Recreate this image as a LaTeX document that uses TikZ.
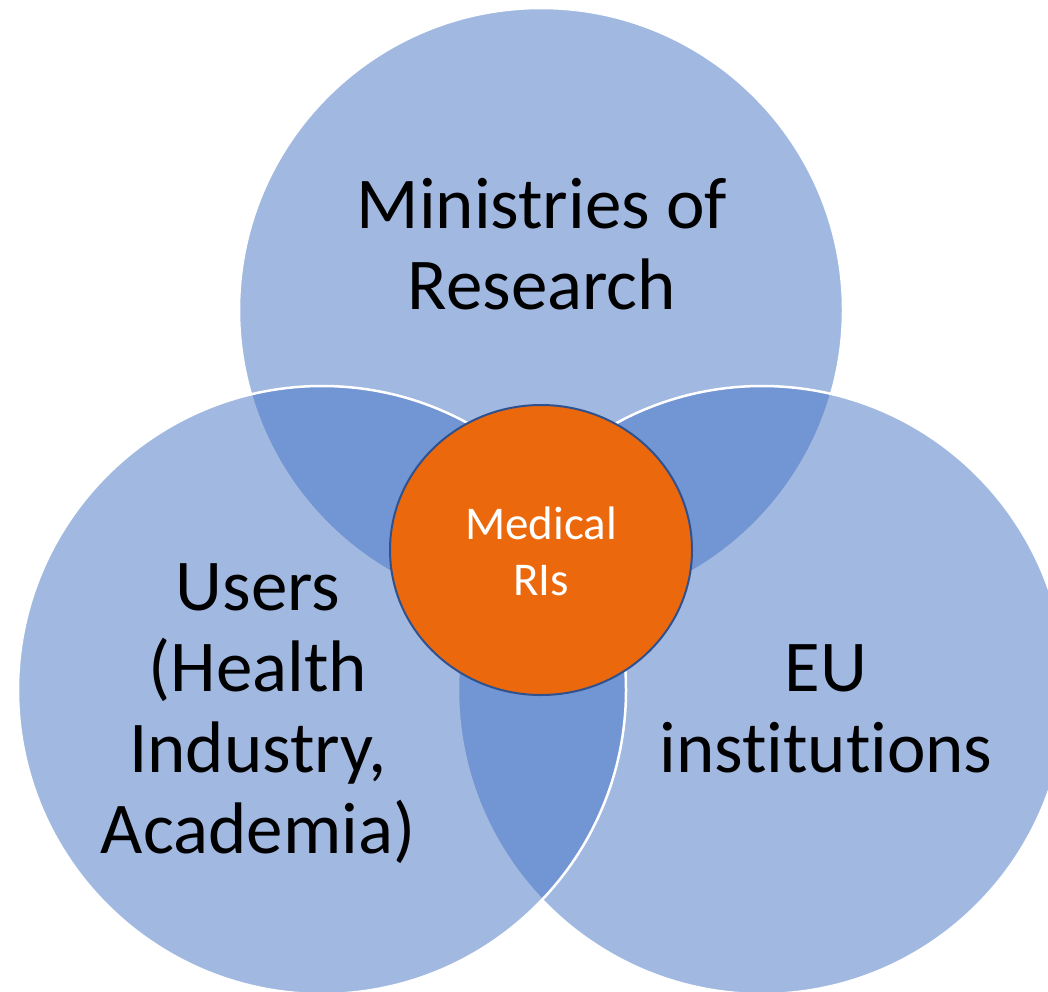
\documentclass[tikz,border=0pt]{standalone}
\usepackage{fontspec}
\setmainfont[Ligatures=NoCommon]{Carlito}
\definecolor{venn}{HTML}{4472C4}
\definecolor{core}{HTML}{EC680C}
\definecolor{coreline}{HTML}{2F528F}

\begin{document}
\begin{tikzpicture}[x=1pt,y=-1pt,
  set/.style={fill=venn,fill opacity=0.5,draw=white,line width=2.5pt},
  setlabel/.style={align=center,inner sep=0pt,font=\fontsize{73}{81}\selectfont}]

\useasboundingbox (0,0) rectangle (1048,991);
\clip (0,0) rectangle (1048,991);

% Ministeres
\draw[set] (541,310) circle (302pt);

% Institutions
\draw[set] (762,690) circle (304pt);

% Utilisateurs
\draw[set] (322,690) circle (304pt);

% Coeur
\draw[fill=core,draw=coreline,line width=2pt] (541,550) ellipse (151pt and 145pt);

% Textes
\node[setlabel] (ministries) at (542,244) {Ministries of\\Research};
\node[setlabel] (users) at (258,714) {Users\\(Health\\Industry,\\Academia)};
\node[setlabel] (eu) at (826,709) {EU\\institutions};
\node[align=center,inner sep=0pt,text=white,
  font=\fontsize{47}{56}\selectfont] (core) at (541,551) {Medical\\RIs};

\end{tikzpicture}
\end{document}
